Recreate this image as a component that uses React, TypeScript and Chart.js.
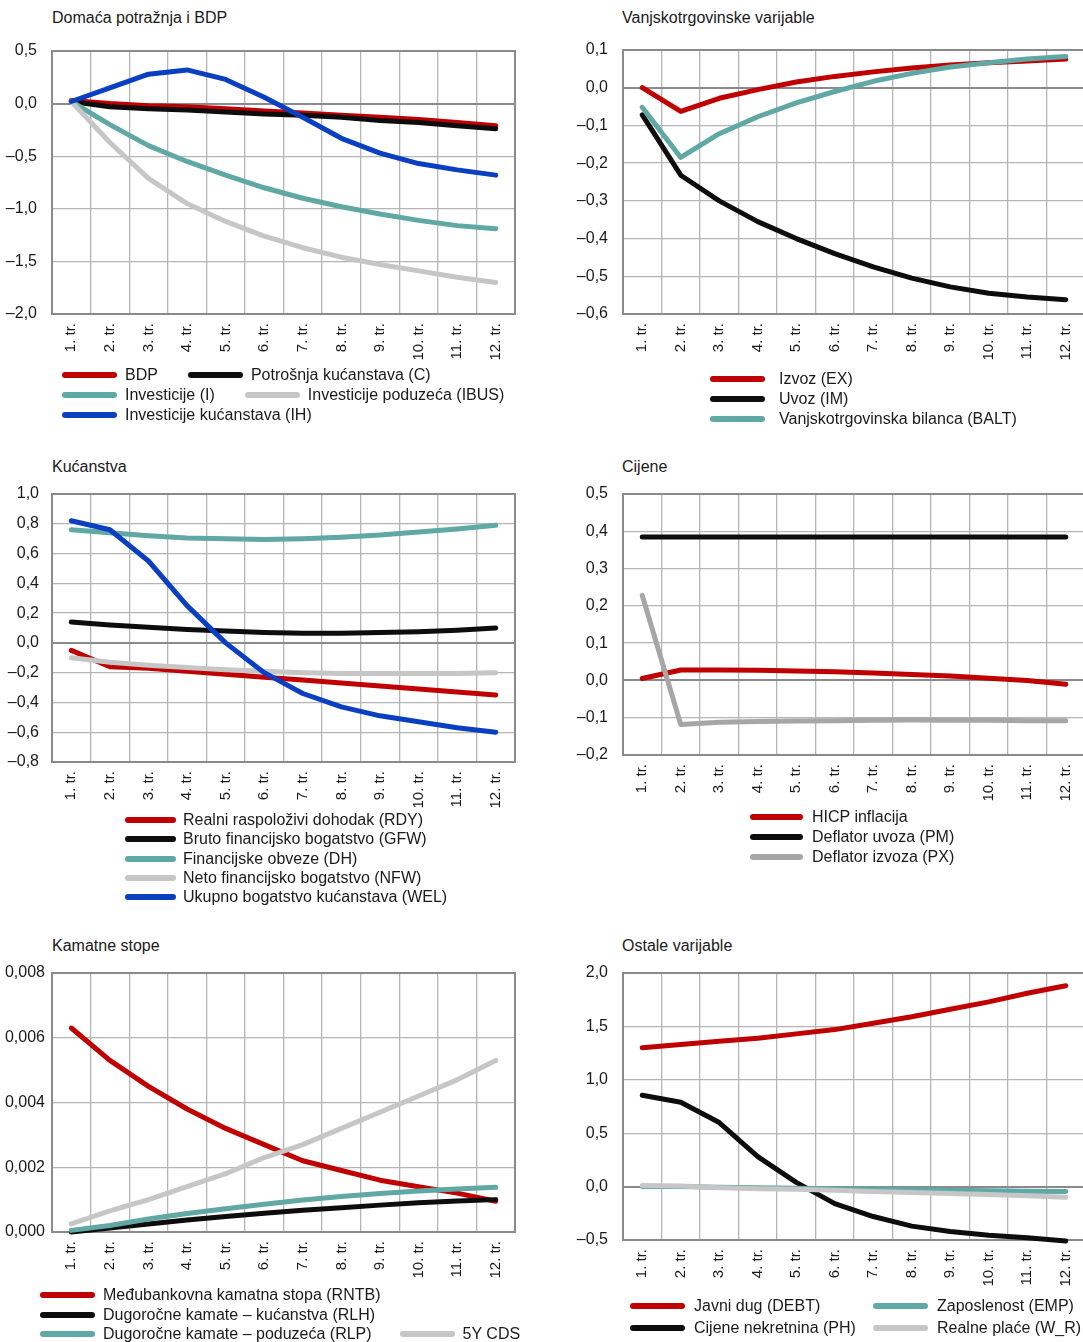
import React, { useEffect, useRef } from "react";
import { Chart, registerables } from "chart.js";

Chart.register(...registerables);

// ---------- DATA ----------
const quarters = ["1. tr.", "2. tr.", "3. tr.", "4. tr.", "5. tr.", "6. tr.", "7. tr.", "8. tr.", "9. tr.", "10. tr.", "11. tr.", "12. tr."];

// Panel 1: Domaća potražnja i BDP
const p1Title = "Domaća potražnja i BDP";
const p1Names = ["BDP", "Potrošnja kućanstava (C)", "Investicije (I)", "Investicije poduzeća (IBUS)", "Investicije kućanstava (IH)"];
const p1BDP = [0.03, 0.0, -0.02, -0.03, -0.05, -0.07, -0.09, -0.11, -0.13, -0.15, -0.18, -0.21];
const p1C = [0.02, -0.03, -0.05, -0.06, -0.08, -0.1, -0.11, -0.13, -0.16, -0.18, -0.21, -0.24];
const p1I = [0.02, -0.2, -0.4, -0.55, -0.68, -0.8, -0.9, -0.98, -1.05, -1.11, -1.16, -1.19];
const p1IBUS = [0.02, -0.37, -0.71, -0.95, -1.12, -1.26, -1.37, -1.46, -1.53, -1.59, -1.65, -1.7];
const p1IH = [0.02, 0.15, 0.28, 0.32, 0.23, 0.06, -0.13, -0.33, -0.47, -0.57, -0.63, -0.68];
const p1Ticks = [-2.0, 0.5, 0.5];

// Panel 2: Vanjskotrgovinske varijable
const p2Title = "Vanjskotrgovinske varijable";
const p2Names = ["Izvoz (EX)", "Uvoz (IM)", "Vanjskotrgovinska bilanca (BALT)"];
const p2EX = [0.0, -0.063, -0.028, -0.005, 0.015, 0.03, 0.042, 0.052, 0.06, 0.066, 0.071, 0.076];
const p2IM = [-0.072, -0.232, -0.3, -0.355, -0.4, -0.44, -0.475, -0.505, -0.528, -0.545, -0.555, -0.562];
const p2BALT = [-0.052, -0.185, -0.122, -0.077, -0.04, -0.01, 0.017, 0.038, 0.055, 0.066, 0.076, 0.083];
const p2Ticks = [-0.6, 0.1, 0.1];

// Panel 3: Kućanstva
const p3Title = "Kućanstva";
const p3Names = ["Realni raspoloživi dohodak (RDY)", "Bruto financijsko bogatstvo (GFW)", "Financijske obveze (DH)", "Neto financijsko bogatstvo (NFW)", "Ukupno bogatstvo kućanstava (WEL)"];
const p3RDY = [-0.05, -0.16, -0.17, -0.19, -0.21, -0.23, -0.25, -0.27, -0.29, -0.31, -0.33, -0.35];
const p3GFW = [0.14, 0.12, 0.105, 0.09, 0.08, 0.07, 0.065, 0.065, 0.07, 0.075, 0.085, 0.1];
const p3DH = [0.76, 0.74, 0.72, 0.705, 0.7, 0.695, 0.7, 0.71, 0.725, 0.745, 0.765, 0.79];
const p3NFW = [-0.1, -0.13, -0.15, -0.165, -0.18, -0.19, -0.2, -0.205, -0.205, -0.205, -0.205, -0.2];
const p3WEL = [0.82, 0.76, 0.55, 0.25, 0.0, -0.2, -0.34, -0.43, -0.49, -0.53, -0.57, -0.6];
const p3Ticks = [-0.8, 1.0, 0.2];

// Panel 4: Cijene
const p4Title = "Cijene";
const p4Names = ["HICP inflacija", "Deflator uvoza (PM)", "Deflator izvoza (PX)"];
const p4HICP = [0.005, 0.028, 0.028, 0.027, 0.025, 0.023, 0.02, 0.016, 0.012, 0.006, 0.0, -0.01];
const p4PM = [0.385, 0.385, 0.385, 0.385, 0.385, 0.385, 0.385, 0.385, 0.385, 0.385, 0.385, 0.385];
const p4PX = [0.228, -0.118, -0.112, -0.11, -0.109, -0.108, -0.107, -0.106, -0.107, -0.107, -0.108, -0.108];
const p4Ticks = [-0.2, 0.5, 0.1];

// Panel 5: Kamatne stope
const p5Title = "Kamatne stope";
const p5Names = ["Međubankovna kamatna stopa (RNTB)", "Dugoročne kamate – kućanstva (RLH)", "Dugoročne kamate – poduzeća (RLP)", "5Y CDS"];
const p5RNTB = [0.0063, 0.0053, 0.0045, 0.0038, 0.0032, 0.0027, 0.0022, 0.0019, 0.0016, 0.0014, 0.0012, 0.00095];
const p5RLH = [0.0, 0.00012, 0.00025, 0.00037, 0.00048, 0.00058, 0.00067, 0.00075, 0.00083, 0.0009, 0.00096, 0.001];
const p5RLP = [0.00005, 0.0002, 0.0004, 0.00057, 0.00072, 0.00086, 0.00099, 0.0011, 0.00119, 0.00127, 0.00133, 0.00138];
const p5CDS = [0.00025, 0.00065, 0.001, 0.0014, 0.0018, 0.0023, 0.0027, 0.0032, 0.0037, 0.0042, 0.0047, 0.0053];
const p5Ticks = [0, 0.008, 0.002];

// Panel 6: Ostale varijable
const p6Title = "Ostale varijable";
const p6Names = ["Javni dug (DEBT)", "Cijene nekretnina (PH)", "Zaposlenost (EMP)", "Realne plaće (W_R)"];
const p6DEBT = [1.3, 1.33, 1.36, 1.39, 1.43, 1.47, 1.53, 1.59, 1.66, 1.73, 1.81, 1.88];
const p6PH = [0.856, 0.79, 0.6, 0.28, 0.04, -0.16, -0.28, -0.37, -0.42, -0.455, -0.48, -0.51];
const p6EMP = [0.0, 0.0, -0.005, -0.01, -0.015, -0.02, -0.025, -0.03, -0.035, -0.04, -0.043, -0.045];
const p6WR = [0.01, 0.005, -0.01, -0.02, -0.025, -0.035, -0.045, -0.055, -0.065, -0.075, -0.085, -0.1];
const p6Ticks = [-0.5, 2.0, 0.5];

// ---------- STYLE ----------
const FONT = "'Liberation Sans', Arial, Helvetica, sans-serif";
const TEXT = "#1a1a1a";
const GRID = "#b5b5b5";
const DARK = "#8a8a8a";
const RED = "#c00000";
const BLACK = "#0d0d0d";
const TEAL = "#5fa8a3";
const LGRAY = "#c6c6c6";
const MGRAY = "#a6a6a6";
const BLUE = "#0a3fc2";

type Series = { label: string; data: number[]; color: string };
type LegendCfg = {
  x: number; y0: number; dy: number; lineLen: number; textGap: number; itemGap: number;
  rows: number[][]; colX?: number[];
};
type PanelCfg = {
  title: string; titleX: number; titleY: number;
  left: number; top: number; plotH: number; plotW: number; yPad: number;
  ticks: number[]; decimals: number;
  series: Series[]; legend: LegendCfg;
};

const Y_AXIS_W = 52;
const X_AXIS_H = 60;
const PAD_TOP = 30;      // layout padding; larger than the y-label padding, so it fixes the plot top
const PAD_RIGHT = 10;

const panels: PanelCfg[] = [
  {
    title: p1Title, titleX: 52, titleY: 18,
    left: 52, top: 50.5, plotH: 262.5, plotW: 463, yPad: 15,
    ticks: p1Ticks, decimals: 1,
    series: [
      { label: p1Names[0], data: p1BDP, color: RED },
      { label: p1Names[1], data: p1C, color: BLACK },
      { label: p1Names[2], data: p1I, color: TEAL },
      { label: p1Names[3], data: p1IBUS, color: LGRAY },
      { label: p1Names[4], data: p1IH, color: BLUE },
    ],
    legend: { x: 62, y0: 375, dy: 20, lineLen: 55, textGap: 8, itemGap: 30, rows: [[0, 1], [2, 3], [4]] },
  },
  {
    title: p2Title, titleX: 622, titleY: 18,
    left: 622.5, top: 50, plotH: 264, plotW: 462, yPad: 15,
    ticks: p2Ticks, decimals: 1,
    series: [
      { label: p2Names[0], data: p2EX, color: RED },
      { label: p2Names[1], data: p2IM, color: BLACK },
      { label: p2Names[2], data: p2BALT, color: TEAL },
    ],
    legend: { x: 710, y0: 379, dy: 20, lineLen: 55, textGap: 14, itemGap: 30, rows: [[0], [1], [2]] },
  },
  {
    title: p3Title, titleX: 52, titleY: 467,
    left: 52, top: 494, plotH: 268, plotW: 463, yPad: 13,
    ticks: p3Ticks, decimals: 1,
    series: [
      { label: p3Names[0], data: p3RDY, color: RED },
      { label: p3Names[1], data: p3GFW, color: BLACK },
      { label: p3Names[2], data: p3DH, color: TEAL },
      { label: p3Names[3], data: p3NFW, color: LGRAY },
      { label: p3Names[4], data: p3WEL, color: BLUE },
    ],
    legend: { x: 125, y0: 820, dy: 19.3, lineLen: 51, textGap: 7, itemGap: 30, rows: [[0], [1], [2], [3], [4]] },
  },
  {
    title: p4Title, titleX: 622, titleY: 467,
    left: 622.5, top: 494, plotH: 261, plotW: 462, yPad: 15,
    ticks: p4Ticks, decimals: 1,
    series: [
      { label: p4Names[0], data: p4HICP, color: RED },
      { label: p4Names[1], data: p4PM, color: BLACK },
      { label: p4Names[2], data: p4PX, color: MGRAY },
    ],
    legend: { x: 750, y0: 817, dy: 20, lineLen: 53, textGap: 9, itemGap: 30, rows: [[0], [1], [2]] },
  },
  {
    title: p5Title, titleX: 52, titleY: 946,
    left: 52, top: 973, plotH: 259, plotW: 463, yPad: 7,
    ticks: p5Ticks, decimals: 3,
    series: [
      { label: p5Names[0], data: p5RNTB, color: RED },
      { label: p5Names[1], data: p5RLH, color: BLACK },
      { label: p5Names[2], data: p5RLP, color: TEAL },
      { label: p5Names[3], data: p5CDS, color: LGRAY },
    ],
    legend: { x: 40, y0: 1295, dy: 19.5, lineLen: 55, textGap: 8, itemGap: 28, rows: [[0], [1], [2, 3]] },
  },
  {
    title: p6Title, titleX: 622, titleY: 946,
    left: 622.5, top: 973, plotH: 267, plotW: 462, yPad: 15,
    ticks: p6Ticks, decimals: 1,
    series: [
      { label: p6Names[0], data: p6DEBT, color: RED },
      { label: p6Names[1], data: p6PH, color: BLACK },
      { label: p6Names[2], data: p6EMP, color: TEAL },
      { label: p6Names[3], data: p6WR, color: LGRAY },
    ],
    legend: { x: 630, y0: 1306, dy: 22, lineLen: 55, textGap: 9, itemGap: 30, rows: [[0, 2], [1, 3]], colX: [0, 243] },
  },
];

function fmt(v: number, d: number): string {
  const r = Number(v.toFixed(d));
  const s = Math.abs(r).toFixed(d).replace(".", ",");
  return r < 0 ? "\u2013" + s : s;
}

const framePlugin = {
  id: "frame",
  beforeDatasetsDraw(chart: any) {
    const { ctx, chartArea } = chart;
    ctx.save();
    ctx.strokeStyle = DARK;
    ctx.lineWidth = 2;
    ctx.strokeRect(chartArea.left, chartArea.top, chartArea.right - chartArea.left, chartArea.bottom - chartArea.top);
    ctx.restore();
  },
};

function Panel({ cfg }: { cfg: PanelCfg }) {
  const ref = useRef<HTMLCanvasElement | null>(null);
  const cLeft = cfg.left - Y_AXIS_W;
  const cTop = cfg.top - PAD_TOP;
  const cW = Math.round(Y_AXIS_W + cfg.plotW + PAD_RIGHT);
  const cH = Math.round(PAD_TOP + cfg.plotH + X_AXIS_H);

  useEffect(() => {
    if (!ref.current) return;
    const n = cfg.series.length;
    const [yMin, yMax, yStep] = cfg.ticks;
    const isZero = (c: any) => c.tick && Math.abs(c.tick.value) < 1e-9;
    const chart = new Chart(ref.current, {
      type: "line",
      data: {
        labels: quarters,
        datasets: cfg.series.map((s, i) => ({
          label: s.label,
          data: s.data,
          borderColor: s.color,
          backgroundColor: s.color,
          borderWidth: 5,
          borderCapStyle: "round",
          borderJoinStyle: "round",
          pointRadius: 0,
          tension: 0,
          fill: false,
          clip: false as any,
          order: n - 1 - i,
        })),
      },
      options: {
        responsive: false,
        animation: false,
        events: [],
        layout: { padding: { top: PAD_TOP, right: PAD_RIGHT, left: 0, bottom: 0 } },
        plugins: { legend: { display: false }, tooltip: { enabled: false } },
        scales: {
          x: {
            type: "category",
            offset: true,
            grid: { offset: true, color: GRID, lineWidth: 1.3, drawTicks: false },
            border: { display: false },
            ticks: {
              autoSkip: false, maxRotation: 90, minRotation: 90, padding: 9,
              color: TEXT, font: { family: FONT, size: 15 },
            },
            afterFit: (s: any) => { s.height = X_AXIS_H; },
          },
          y: {
            min: yMin, max: yMax,
            grid: {
              color: (c: any) => (isZero(c) ? DARK : GRID),
              lineWidth: (c: any) => (isZero(c) ? 2 : 1.3),
              drawTicks: false,
            },
            border: { display: false },
            ticks: {
              stepSize: yStep, padding: cfg.yPad, color: TEXT,
              font: { family: FONT, size: 16 },
              callback: (v: any) => fmt(Number(v), cfg.decimals),
            },
            afterFit: (s: any) => { s.width = Y_AXIS_W; },
          },
        },
      } as any,
      plugins: [framePlugin],
    });
    return () => chart.destroy();
  }, [cfg]);

  const lg = cfg.legend;
  const items: React.ReactNode[] = [];
  lg.rows.forEach((row, r) => {
    const y = lg.y0 + r * lg.dy;
    if (lg.colX) {
      row.forEach((idx, j) => {
        const s = cfg.series[idx];
        items.push(
          <div key={`${r}-${j}`} style={{ position: "absolute", left: lg.x + lg.colX![j], top: y - 10, height: 20, display: "flex", alignItems: "center", whiteSpace: "nowrap" }}>
            <span style={{ display: "inline-block", width: lg.lineLen, height: 6, borderRadius: 3, background: s.color, marginRight: lg.textGap }} />
            <span>{s.label}</span>
          </div>
        );
      });
    } else {
      items.push(
        <div key={`${r}`} style={{ position: "absolute", left: lg.x, top: y - 10, height: 20, display: "flex", alignItems: "center", whiteSpace: "nowrap", gap: lg.itemGap }}>
          {row.map((idx) => {
            const s = cfg.series[idx];
            return (
              <span key={idx} style={{ display: "flex", alignItems: "center" }}>
                <span style={{ display: "inline-block", width: lg.lineLen, height: 6, borderRadius: 3, background: s.color, marginRight: lg.textGap }} />
                <span>{s.label}</span>
              </span>
            );
          })}
        </div>
      );
    }
  });

  return (
    <>
      <div style={{ position: "absolute", left: cfg.titleX, top: cfg.titleY - 10, lineHeight: "20px", whiteSpace: "nowrap" }}>{cfg.title}</div>
      <canvas ref={ref} width={cW} height={cH} style={{ position: "absolute", left: cLeft, top: cTop, width: cW, height: cH, display: "block" }} />
      {items}
    </>
  );
}

export default function App() {
  return (
    <div style={{ position: "absolute", left: 0, top: 0, width: 1083, height: 1342, overflow: "hidden", background: "#fff", fontFamily: FONT, fontSize: 16, color: TEXT }}>
      {panels.map((p, i) => (
        <Panel key={i} cfg={p} />
      ))}
    </div>
  );
}
